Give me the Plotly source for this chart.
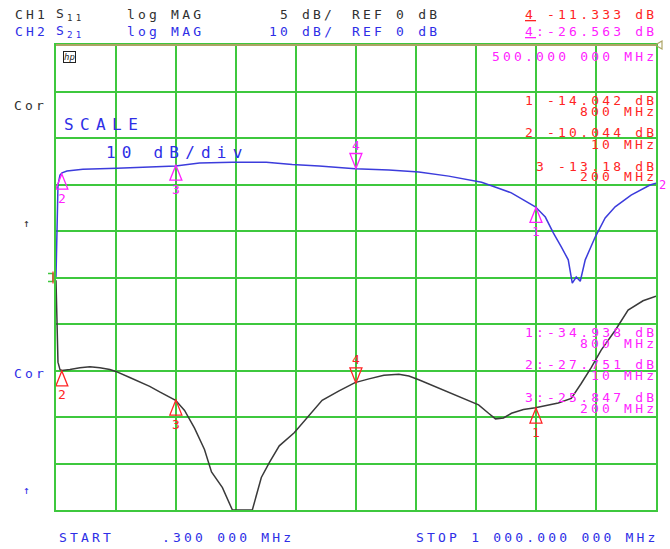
import plotly.graph_objects as go

# ---------------- data ----------------
# CH1: S11 log MAG, 5 dB/div, REF 0 dB (centre line)
freq_s11 = [0.3, 1.96, 3.6, 6.9, 10.3, 23.5, 40.2, 56.8, 73.4, 90, 100, 123.2, 139.8, 156.4, 173,
            189.6, 199.6, 214.5, 231.1, 247.7, 259.4, 277.6, 286, 294.2, 327.4, 342.4, 355.7, 372.3,
            397.2, 422.1, 443.7, 471.9, 498.5, 521.7, 546.6, 571.5, 588.2, 604.8, 638, 671.2, 704.4,
            721, 732.6, 745.9, 759.2, 779.1, 799, 837.2, 858.8, 875.4, 892, 908.6, 931.9, 953.5,
            978.4, 1000]
s11_db = [-0.3, -4.6, -9.1, -9.9, -10.0, -9.9, -9.7, -9.6, -9.7, -9.9, -10.1, -10.75, -11.2, -11.7,
          -12.3, -12.9, -13.2, -14.3, -16.2, -18.5, -20.9, -22.6, -23.8, -25.0, -25.0, -21.5, -19.9,
          -18.1, -16.7, -14.8, -13.2, -12.2, -11.3, -10.9, -10.5, -10.4, -10.6, -11.0, -11.9, -12.8,
          -13.7, -14.6, -15.2, -15.1, -14.6, -14.2, -14.0, -13.5, -13.0, -11.4, -9.7, -7.8, -5.7,
          -3.5, -2.5, -2.0]

# CH2: S21 log MAG, 10 dB/div, REF 0 dB (top line)
freq_s21 = [0.3, 2.0, 3.6, 6.9, 10.3, 18.6, 45.1, 101.6, 156.4, 199.6, 239.4, 294.2, 350.7, 393.9,
            438.7, 498.5, 555, 604.8, 654.6, 709.4, 737.6, 759.0, 779.0, 799, 815.6, 828.9, 842.2,
            853.8, 860.5, 867.1, 873.8, 882.1, 898.7, 915.3, 931.9, 958.5, 990, 1000]
s21_db = [-49.9, -39.8, -30.1, -28.0, -27.5, -27.1, -26.7, -26.5, -26.3, -26.0, -25.4, -25.2, -25.2,
          -25.7, -26.0, -26.6, -26.9, -27.3, -28.2, -29.5, -30.8, -31.8, -33.3, -34.8, -37.0, -40.4,
          -43.4, -46.2, -51.2, -49.9, -50.8, -46.2, -41.3, -37.2, -34.8, -32.3, -30.1, -29.7]

marker_ids = ["1", "2", "3", "4"]
marker_freq = [800, 10, 200, 500]
marker_freq_text = ["800 MHz", "10 MHz", "200 MHz", "500.000 000 MHz"]
s11_marker_db = [-14.042, -10.044, -13.18, -11.333]
s21_marker_db = [-34.938, -27.751, -25.847, -26.563]

start_text = ".300 000 MHz"
stop_text = "1 000.000 000 MHz"

# ---------------- style ----------------
FONT = "DejaVu Sans Mono"
GRID = "#3ec83e"
OLIVE = "#ada465"
TXT_BLACK = "#303030"
TXT_BLUE = "#2e2ee6"
RED = "#ff2424"
MAG = "#ff22ff"
L, R, T, B = 56, 658, 45, 510
W, H = 670, 549
RX = 661  # right edge for right-aligned readouts


def px(x):
    return (x - L) / (R - L)


def py(y):
    return (B - y) / (B - T)


def sp(s, ls=3.2):
    return f'<span style="letter-spacing:{ls}px">{s}</span>'


annotations = []


def ann(x, y, text, color, anchor="left", size=13, ls=3.2):
    annotations.append(dict(
        x=px(x), y=py(y), xref="paper", yref="paper", text=sp(text, ls),
        showarrow=False, xanchor=anchor, yanchor="middle",
        font=dict(family=FONT, size=size, color=color)))


fig = go.Figure()
fig.add_trace(go.Scatter(x=freq_s11, y=s11_db, mode="lines", yaxis="y",
                         line=dict(color="#3a3a3a", width=1.5), showlegend=False))
fig.add_trace(go.Scatter(x=freq_s21, y=s21_db, mode="lines", yaxis="y2",
                         line=dict(color="#3c3cdc", width=1.5), showlegend=False))

# header
ann(13, 14, "CH1", TXT_BLACK)
ann(54, 14, "S<sub>11</sub>", TXT_BLACK)
ann(125, 14, "log MAG", TXT_BLACK)
ann(338, 14, "5 dB/", TXT_BLACK, "right")
ann(351, 14, "REF 0 dB", TXT_BLACK)
ann(RX, 14, f"<u>{marker_ids[3]}</u> {s11_marker_db[3]:g} dB", RED, "right")
ann(13, 32, "CH2", TXT_BLUE)
ann(54, 32, "S<sub>21</sub>", TXT_BLUE)
ann(125, 32, "log MAG", TXT_BLUE)
ann(338, 32, "10 dB/", TXT_BLUE, "right")
ann(351, 32, "REF 0 dB", TXT_BLUE)
ann(RX, 32, f"<u>{marker_ids[3]}</u>:{s21_marker_db[3]:g} dB", MAG, "right")

# active marker frequency
ann(RX, 57, marker_freq_text[3], MAG, "right")

# marker readouts
red_rows = [(100, 111), (132, 144), (166, 177)]
mag_rows = [(332, 343), (364, 375), (397, 408)]
for i in range(3):
    ann(RX, red_rows[i][0], f"{marker_ids[i]} {s11_marker_db[i]:g} dB", RED, "right")
    ann(RX, red_rows[i][1], marker_freq_text[i], RED, "right")
    ann(RX, mag_rows[i][0], f"{marker_ids[i]}:{s21_marker_db[i]:g} dB", MAG, "right")
    ann(RX, mag_rows[i][1], marker_freq_text[i], MAG, "right")

# left side labels
ann(12, 105, "Cor", TXT_BLACK)
ann(21, 223, "↑", TXT_BLACK, size=11)
ann(12, 373, "Cor", TXT_BLUE)
ann(21, 490, "↑", TXT_BLUE, size=11)

# scale labels
ann(62, 124, "SCALE", TXT_BLUE, size=16, ls=6.4)
ann(104, 152, "10 dB/div", TXT_BLUE, size=16, ls=6.2)

# bottom
ann(57, 537, "START", TXT_BLUE)
ann(160, 537, start_text, TXT_BLUE)
ann(663, 537, "STOP " + stop_text, TXT_BLUE, "right")

# trace end label, hp icon
ann(659, 185, "2", MAG, size=12, ls=0)
annotations.append(dict(x=px(63), y=py(57), xref="paper", yref="paper",
                        text="<i>hp</i>", showarrow=False, xanchor="left", yanchor="middle",
                        font=dict(family=FONT, size=9, color="#222"),
                        bordercolor="#222", borderwidth=1, borderpad=0))

shapes = []
# top reference line (olive) and ref triangles
shapes.append(dict(type="line", xref="paper", yref="paper", x0=0, x1=1, y0=1, y1=1,
                   line=dict(color=OLIVE, width=2), layer="above"))
shapes.append(dict(type="path", xref="paper", yref="paper", xsizemode="pixel", ysizemode="pixel",
                   xanchor=1, yanchor=1, path="M -1,0 L 6,4 L 6,-4 Z",
                   line=dict(color=OLIVE, width=1.2), fillcolor="rgba(0,0,0,0)"))
shapes.append(dict(type="path", xref="paper", yref="y", xsizemode="pixel", ysizemode="pixel",
                   xanchor=0, yanchor=0, path="M -8,4 L -3,4 L -3,-4 L -8,-4",
                   line=dict(color=GRID, width=1.5), fillcolor="rgba(0,0,0,0)"))
shapes.append(dict(type="line", xref="paper", yref="y", xsizemode="pixel", ysizemode="pixel",
                   xanchor=0, yanchor=0, x0=-3, x1=-3, y0=-6, y1=6,
                   line=dict(color=RED, width=1.2)))

# marker triangles
for i in range(4):
    up = i < 3
    path = "M 0,0 L -6,-15 L 6,-15 Z" if up else "M 0,0 L -6,15 L 6,15 Z"
    for yref, val, col in (("y", s11_marker_db[i], RED), ("y2", s21_marker_db[i], MAG)):
        shapes.append(dict(type="path", xref="x", yref=yref, xsizemode="pixel", ysizemode="pixel",
                           xanchor=marker_freq[i], yanchor=val, path=path,
                           line=dict(color=col, width=1.3), fillcolor="rgba(0,0,0,0)",
                           layer="above"))
        annotations.append(dict(x=marker_freq[i], y=val, xref="x", yref=yref,
                                text=marker_ids[i], showarrow=False,
                                xanchor="center", yanchor="middle",
                                yshift=-24 if up else 23,
                                font=dict(family=FONT, size=13, color=col)))

fig.update_layout(
    width=W, height=H,
    margin=dict(l=L, r=W - R, t=T, b=H - B, pad=0),
    paper_bgcolor="white", plot_bgcolor="white",
    showlegend=False,
    xaxis=dict(range=[0.3, 1000], tick0=0.3, dtick=99.97, showgrid=True,
               gridcolor=GRID, gridwidth=1.5, showticklabels=False, ticks="",
               zeroline=False, showline=True, linecolor=GRID, linewidth=1.5, mirror=True,
               fixedrange=True),
    yaxis=dict(range=[-25, 25], dtick=5, showgrid=True, gridcolor=GRID, gridwidth=1.5,
               showticklabels=False, ticks="", zeroline=False, showline=True,
               linecolor=GRID, linewidth=1.5, mirror=True, fixedrange=True),
    yaxis2=dict(range=[-100, 0], overlaying="y", visible=False, showgrid=False,
                zeroline=False, fixedrange=True),
    annotations=annotations,
    shapes=shapes,
)

fig.write_html("out.html", config={"displayModeBar": False},
               post_script="document.body.style.margin='0px';document.body.style.padding='0px';")
